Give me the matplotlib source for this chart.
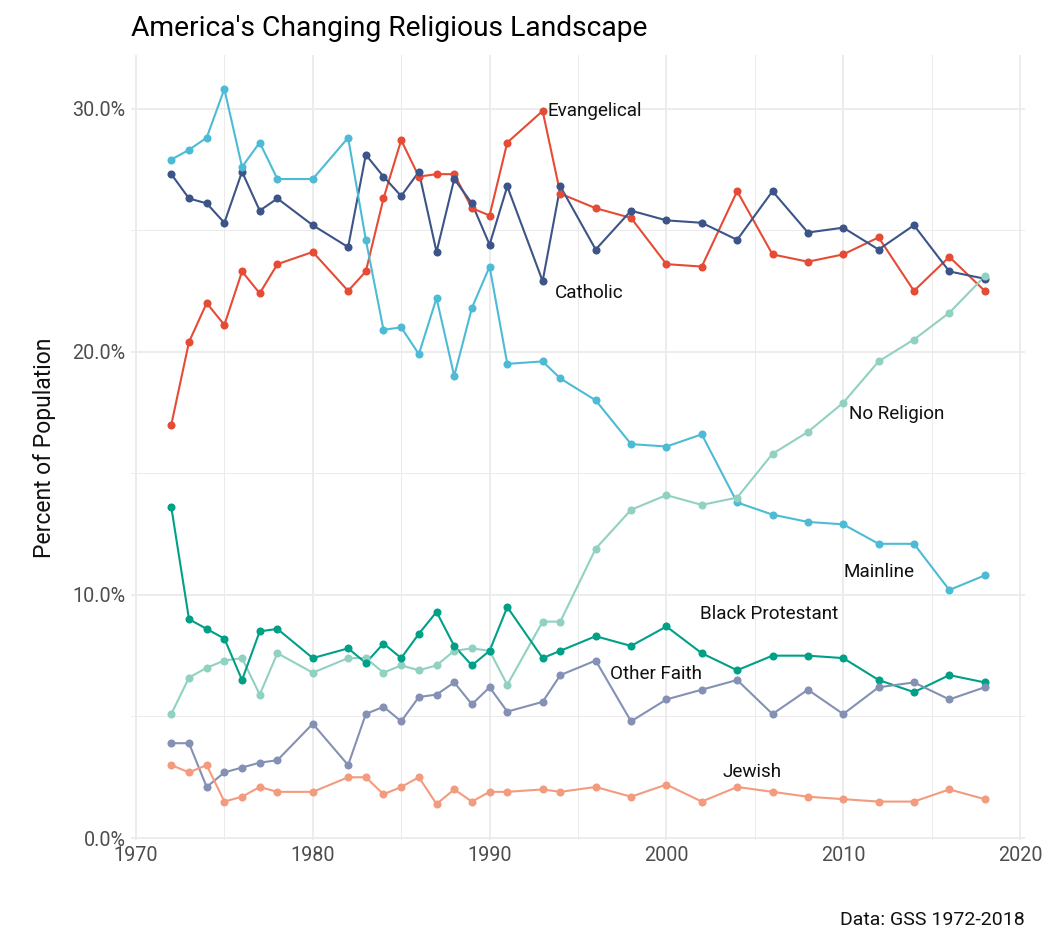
import matplotlib
matplotlib.use("Agg")
import matplotlib.pyplot as plt
from matplotlib.ticker import FuncFormatter, MultipleLocator

plt.rcParams['font.family'] = ['Roboto', 'DejaVu Sans']

years = [1972, 1973, 1974, 1975, 1976, 1977, 1978, 1980, 1982, 1983, 1984, 1985,
         1986, 1987, 1988, 1989, 1990, 1991, 1993, 1994, 1996, 1998, 2000, 2002,
         2004, 2006, 2008, 2010, 2012, 2014, 2016, 2018]

evangelical = [17.0, 20.4, 22.0, 21.1, 23.3, 22.4, 23.6, 24.1, 22.5, 23.3, 26.3, 28.7,
               27.2, 27.3, 27.3, 25.9, 25.6, 28.6, 29.9, 26.5, 25.9, 25.5, 23.6, 23.5,
               26.6, 24.0, 23.7, 24.0, 24.7, 22.5, 23.9, 22.5]
catholic = [27.3, 26.3, 26.1, 25.3, 27.4, 25.8, 26.3, 25.2, 24.3, 28.1, 27.2, 26.4,
            27.4, 24.1, 27.1, 26.1, 24.4, 26.8, 22.9, 26.8, 24.2, 25.8, 25.4, 25.3,
            24.6, 26.6, 24.9, 25.1, 24.2, 25.2, 23.3, 23.0]
mainline = [27.9, 28.3, 28.8, 30.8, 27.6, 28.6, 27.1, 27.1, 28.8, 24.6, 20.9, 21.0,
            19.9, 22.2, 19.0, 21.8, 23.5, 19.5, 19.6, 18.9, 18.0, 16.2, 16.1, 16.6,
            13.8, 13.3, 13.0, 12.9, 12.1, 12.1, 10.2, 10.8]
no_religion = [5.1, 6.6, 7.0, 7.3, 7.4, 5.9, 7.6, 6.8, 7.4, 7.4, 6.8, 7.1,
               6.9, 7.1, 7.7, 7.8, 7.7, 6.3, 8.9, 8.9, 11.9, 13.5, 14.1, 13.7,
               14.0, 15.8, 16.7, 17.9, 19.6, 20.5, 21.6, 23.1]
black_protestant = [13.6, 9.0, 8.6, 8.2, 6.5, 8.5, 8.6, 7.4, 7.8, 7.2, 8.0, 7.4,
                    8.4, 9.3, 7.9, 7.1, 7.7, 9.5, 7.4, 7.7, 8.3, 7.9, 8.7, 7.6,
                    6.9, 7.5, 7.5, 7.4, 6.5, 6.0, 6.7, 6.4]
other_faith = [3.9, 3.9, 2.1, 2.7, 2.9, 3.1, 3.2, 4.7, 3.0, 5.1, 5.4, 4.8,
               5.8, 5.9, 6.4, 5.5, 6.2, 5.2, 5.6, 6.7, 7.3, 4.8, 5.7, 6.1,
               6.5, 5.1, 6.1, 5.1, 6.2, 6.4, 5.7, 6.2]
jewish = [3.0, 2.7, 3.0, 1.5, 1.7, 2.1, 1.9, 1.9, 2.5, 2.5, 1.8, 2.1,
          2.5, 1.4, 2.0, 1.5, 1.9, 1.9, 2.0, 1.9, 2.1, 1.7, 2.2, 1.5,
          2.1, 1.9, 1.7, 1.6, 1.5, 1.5, 2.0, 1.6]

series_names = ["Evangelical", "Catholic", "Mainline", "No Religion",
                "Black Protestant", "Other Faith", "Jewish"]
series_values = [evangelical, catholic, mainline, no_religion,
                 black_protestant, other_faith, jewish]
colors = ["#E64B35", "#3C5488", "#4DBBD5", "#91D1C2", "#00A087", "#8491B4", "#F39B7F"]

# label anchor positions (x, y)
label_pos = {
    "Evangelical": (1993.3, 29.9),
    "Catholic": (1993.7, 22.4),
    "No Religion": (2010.3, 17.45),
    "Mainline": (2010.0, 10.95),
    "Black Protestant": (2001.9, 9.2),
    "Other Faith": (1996.8, 6.75),
    "Jewish": (2003.2, 2.7),
}

fig = plt.figure(figsize=(10.62, 9.52), dpi=100)
ax = fig.add_axes([131/1062, 1 - 840/952, (1025-131)/1062, (840-55)/952])

for vals, c in zip(series_values, colors):
    ax.plot(years, vals, color=c, lw=1.5, zorder=3, solid_capstyle='round')
for vals, c in zip(series_values, colors):
    ax.plot(years, vals, 'o', color=c, ms=5.8, mec='none', zorder=4)

for name, c in zip(series_names, colors):
    x, y = label_pos[name]
    ax.text(x, y, name, fontsize=13.6, color="#111111", ha='left', va='center', zorder=5)

ax.set_xlim(1969.72, 2020.28)
ax.set_ylim(-0.08, 32.2)
ax.xaxis.set_major_locator(MultipleLocator(10))
ax.xaxis.set_minor_locator(MultipleLocator(5))
ax.yaxis.set_major_locator(MultipleLocator(10))
ax.yaxis.set_minor_locator(MultipleLocator(5))
ax.yaxis.set_major_formatter(FuncFormatter(lambda v, p: f"{v:.1f}%"))

ax.grid(which='major', color='#EBEBEB', lw=1.3, zorder=0)
ax.grid(which='minor', color='#EBEBEB', lw=0.7, zorder=0)
ax.set_axisbelow(True)
for s in ax.spines.values():
    s.set_visible(False)
ax.tick_params(which='both', length=0, labelsize=14.2, labelcolor='#4D4D4D', pad=4)

ax.set_ylabel("Percent of Population", fontsize=16.5, color='#111111', labelpad=12)

fig.text(131/1062, 1 - 28/952, "America's Changing Religious Landscape", fontsize=20.3,
         color='#000000', ha='left', va='center')
fig.text(1025/1062, 1 - 920/952, "Data: GSS 1972-2018", fontsize=14,
         color='#111111', ha='right', va='center')

fig.savefig("out.png", dpi=100, facecolor='white')
